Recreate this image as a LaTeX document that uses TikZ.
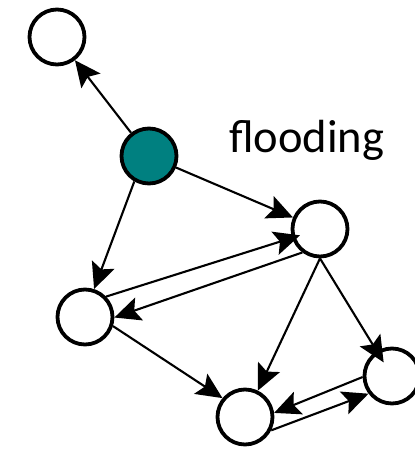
\documentclass[tikz,border=0pt]{standalone}
\usepackage{fontspec}
\setmainfont{Carlito}
\usetikzlibrary{arrows.meta}
\definecolor{seed}{RGB}{0,128,128}
\tikzset{
  peer/.style={circle, draw=black, line width=3.8pt, minimum size=55pt, inner sep=0pt, fill=white},
  arr/.style={line width=2.1pt, -{Stealth[length=26pt, width=24pt, inset=5pt]}}
}
\begin{document}
\begin{tikzpicture}[x=1pt, y=-1pt]
  \useasboundingbox (0,0) rectangle (415,451);
  % network nodes
  \node[peer] (A) at (57,37) {};
  \node[peer, fill=seed] (S) at (149,156) {};
  \node[peer] (B) at (320,229) {};
  \node[peer] (C) at (85,317) {};
  \node[peer] (D) at (245,417) {};
  \node[peer] (E) at (392,376) {};
  % label
  \node[anchor=base west, inner sep=0pt, font=\fontsize{46.5}{50}\selectfont] (lbl) at (229,152) {flooding};
  % forwarded messages
  \draw[arr] (S) -- (A);
  \draw[arr] (S) -- (B);
  \draw[arr] (S.240) -- (C.72);
  \draw[arr, shorten >=21pt] (C.44) -- (B.center);
  \draw[arr] (B.233) -- (C.359);
  \draw[arr] (C.-18) -- (D.140);
  \draw[arr] (B.270) -- (D.64);
  \draw[arr, shorten >=16pt] (B.270) -- (E.center);
  \draw[arr] (E.182) -- (D.8);
  \draw[arr] (D.333) -- (E.217);
\end{tikzpicture}
\end{document}
